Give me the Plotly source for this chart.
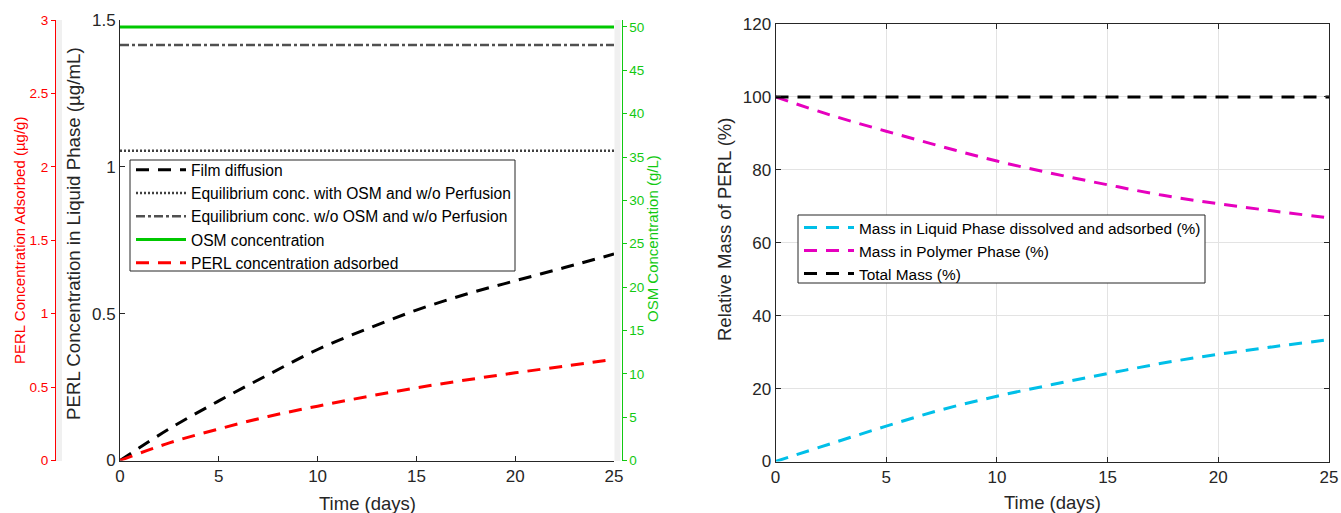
import plotly.graph_objects as go

# ---------------- data ----------------
time_days = [0, 2.5, 5, 7.5, 10, 12.5, 15, 17.5, 20, 22.5, 25]
film_diffusion = [0, 0.108, 0.203, 0.292, 0.378, 0.448, 0.512, 0.566, 0.612, 0.657, 0.703]
perl_adsorbed = [0, 0.12, 0.215, 0.30, 0.37, 0.435, 0.495, 0.548, 0.597, 0.643, 0.688]
eq_with_osm = [1.055] * len(time_days)
eq_without_osm = [1.415] * len(time_days)
osm_conc = [50] * len(time_days)

mass_liquid = [0, 4.9, 9.7, 14.2, 17.9, 21.1, 24.1, 27.0, 29.4, 31.5, 33.4]
mass_polymer = [100, 95.0, 90.6, 86.4, 82.4, 79.0, 75.9, 73.0, 70.7, 68.7, 66.8]
mass_total = [100] * len(time_days)

x_ticks = [0, 5, 10, 15, 20, 25]
left_ticks = [0, 0.5, 1, 1.5]
red_ticks = [0, 0.5, 1, 1.5, 2, 2.5, 3]
green_ticks = [0, 5, 10, 15, 20, 25, 30, 35, 40, 45, 50]
right_ticks = [0, 20, 40, 60, 80, 100, 120]

W, H = 1341, 513
FONT = "Liberation Sans, Arial, sans-serif"
AX = "#262626"
RED = "#ff0000"
GREEN = "#12c912"


def px(x):
    return x / W


def py(y):
    return (H - y) / H


fig = go.Figure()

DASH = "13px,9px"
fig.add_trace(go.Scatter(x=time_days, y=film_diffusion, name="Film diffusion",
                         mode="lines", line=dict(color="black", width=3, dash=DASH, shape="spline"),
                         xaxis="x", yaxis="y", legend="legend"))
fig.add_trace(go.Scatter(x=time_days, y=eq_with_osm, name="Equilibrium conc. with OSM and w/o Perfusion",
                         mode="lines", line=dict(color="#404040", width=2.5, dash="2px,2px"),
                         xaxis="x", yaxis="y", legend="legend"))
fig.add_trace(go.Scatter(x=time_days, y=eq_without_osm, name="Equilibrium conc. w/o OSM and w/o Perfusion",
                         mode="lines", line=dict(color="#505050", width=2.5, dash="9px,3px,3px,3px"),
                         xaxis="x", yaxis="y", legend="legend"))
fig.add_trace(go.Scatter(x=time_days, y=osm_conc, name="OSM concentration",
                         mode="lines", line=dict(color="#00c800", width=3),
                         xaxis="x", yaxis="y3", legend="legend"))
fig.add_trace(go.Scatter(x=time_days, y=perl_adsorbed, name="PERL concentration adsorbed",
                         mode="lines", line=dict(color="#ff0000", width=3, dash=DASH, shape="spline"),
                         xaxis="x", yaxis="y2", legend="legend"))

fig.add_trace(go.Scatter(x=time_days, y=mass_liquid, name="Mass in Liquid Phase dissolved and adsorbed (%)",
                         mode="lines", line=dict(color="#00bfe8", width=3, dash=DASH, shape="spline"),
                         xaxis="x2", yaxis="y4", legend="legend2"))
fig.add_trace(go.Scatter(x=time_days, y=mass_polymer, name="Mass in Polymer Phase (%)",
                         mode="lines", line=dict(color="#e600be", width=3, dash=DASH, shape="spline"),
                         xaxis="x2", yaxis="y4", legend="legend2"))
fig.add_trace(go.Scatter(x=time_days, y=mass_total, name="Total Mass (%)",
                         mode="lines", line=dict(color="black", width=3, dash=DASH),
                         xaxis="x2", yaxis="y4", legend="legend2"))

tickfont = dict(family=FONT, size=17, color=AX)
common = dict(automargin=False, zeroline=False, showline=True, linewidth=1)

fig.update_layout(
    width=W, height=H,
    margin=dict(l=0, r=0, t=0, b=0),
    paper_bgcolor="white", plot_bgcolor="rgba(0,0,0,0)",
    font=dict(family=FONT, color=AX),
    xaxis=dict(domain=[px(120), px(614)], range=[0, 25], tickvals=x_ticks,
               ticks="inside", ticklen=5, tickcolor=AX, linecolor=AX,
               showgrid=False, tickfont=tickfont, anchor="y", **common),
    yaxis=dict(domain=[py(460.5), py(20)], range=[0, 1.5], tickvals=left_ticks,
               ticktext=["0", "0.5", "1", "1.5"],
               ticks="inside", ticklen=5, tickcolor=AX, linecolor=AX,
               showgrid=False, tickfont=tickfont, anchor="x", **common),
    yaxis2=dict(overlaying="y", anchor="free", position=px(55), side="left", range=[0, 3],
                tickvals=red_ticks, ticktext=["0", "0.5", "1", "1.5", "2", "2.5", "3"],
                ticks="outside", ticklen=4, tickcolor=RED, linecolor=RED,
                showgrid=False, tickfont=dict(family=FONT, size=13.5, color=RED), **common),
    yaxis3=dict(overlaying="y", anchor="free", position=px(621.5), side="right", range=[0, 50.8],
                tickvals=green_ticks, ticks="outside", ticklen=4, tickcolor=GREEN,
                linecolor=GREEN, showgrid=False,
                tickfont=dict(family=FONT, size=13.5, color=GREEN), **common),
    xaxis2=dict(domain=[px(775.5), px(1329)], range=[0, 25], tickvals=x_ticks,
                ticks="inside", ticklen=5, tickcolor=AX, mirror="ticks",
                linecolor=AX, showgrid=True, gridcolor="#e3e3e3", gridwidth=1,
                tickfont=tickfont, anchor="y4", **common),
    yaxis4=dict(domain=[py(461.5), py(24)], range=[0, 120], tickvals=right_ticks,
                ticks="inside", ticklen=5, tickcolor=AX, mirror="ticks",
                linecolor=AX, showgrid=True, gridcolor="#e3e3e3", gridwidth=1,
                tickfont=tickfont, anchor="x2", **common),
    legend=dict(x=px(131), y=py(153), xanchor="left", yanchor="top",
                bgcolor="rgba(0,0,0,0)", borderwidth=0,
                font=dict(family=FONT, size=15.6, color="black"), itemwidth=50,
                traceorder="normal"),
    legend2=dict(x=px(799), y=py(211), xanchor="left", yanchor="top",
                 bgcolor="rgba(0,0,0,0)", borderwidth=0,
                 font=dict(family=FONT, size=15.4, color="black"), itemwidth=50,
                 traceorder="normal"),
    showlegend=True,
)

# light grey strips between axes (figure background showing through)
for x0, x1 in [(56, 62), (614.5, 620.5)]:
    fig.add_shape(type="rect", xref="paper", yref="paper", x0=px(x0), x1=px(x1),
                  y0=py(461), y1=py(20), fillcolor="#f0f0f0", line=dict(width=0), layer="below")

# legend boxes
for x0, y0, x1, y1 in [(130, 160, 515, 271), (798, 215, 1205, 283)]:
    fig.add_shape(type="rect", xref="paper", yref="paper", x0=px(x0), x1=px(x1),
                  y0=py(y1), y1=py(y0), fillcolor="white", line=dict(color=AX, width=1),
                  layer="above")

annotations = [
    dict(text="PERL Concentration Adsorbed (µg/g)", x=px(19), y=py(241), textangle=-90,
         font=dict(family=FONT, size=15, color=RED)),
    dict(text="PERL Concentration in Liquid Phase (µg/mL)", x=px(73), y=py(234), textangle=-90,
         font=dict(family=FONT, size=18.7, color=AX)),
    dict(text="OSM Concentration (g/L)", x=px(652), y=py(239), textangle=-90,
         font=dict(family=FONT, size=15, color=GREEN)),
    dict(text="Time (days)", x=px(367), y=py(503), font=dict(family=FONT, size=18.5, color=AX)),
    dict(text="Relative Mass of PERL (%)", x=px(724), y=py(230), textangle=-90,
         font=dict(family=FONT, size=18.5, color=AX)),
    dict(text="Time (days)", x=px(1052), y=py(502), font=dict(family=FONT, size=18.5, color=AX)),
]
for a in annotations:
    fig.add_annotation(xref="paper", yref="paper", showarrow=False, xanchor="center",
                       yanchor="middle", **a)

fig.write_html("out.html")
